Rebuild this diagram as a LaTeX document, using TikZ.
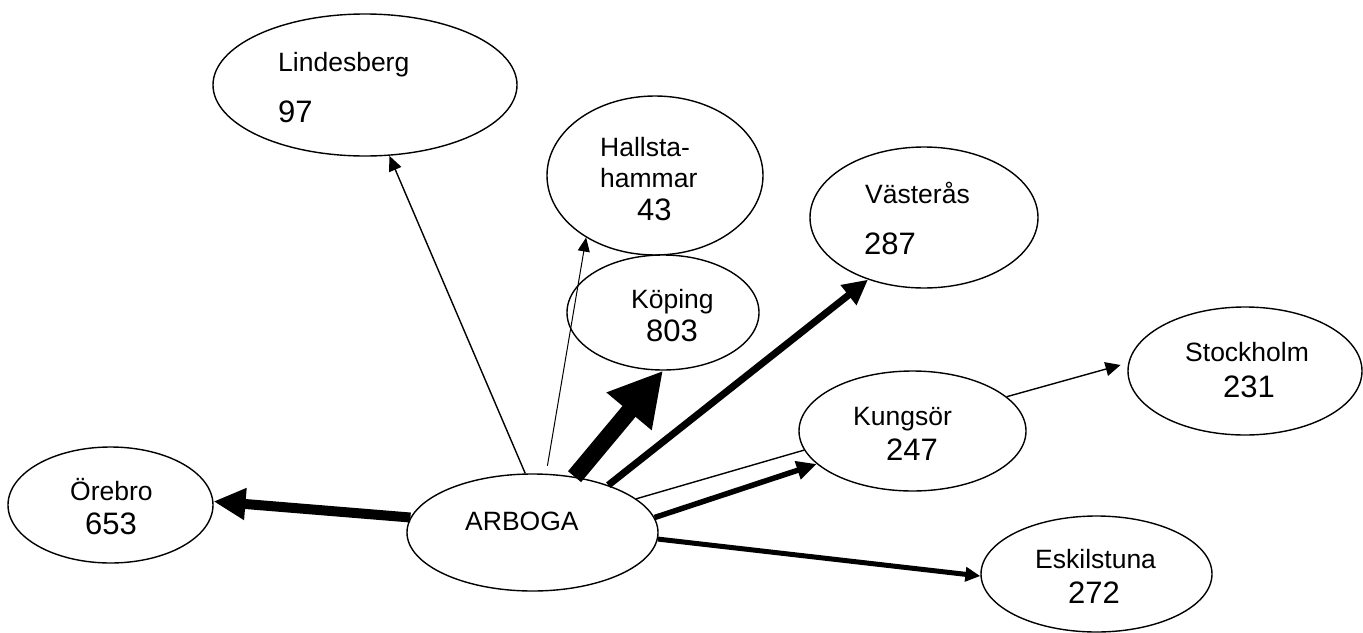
\documentclass[tikz,border=0pt]{standalone}
\usepackage{fontspec}
\setmainfont{Liberation Sans}
\usetikzlibrary{arrows.meta,shapes.geometric}
\tikzset{
  city/.style={draw, line width=1.4pt, fill=white, ellipse, inner sep=0pt},
  nm/.style={anchor=base west, inner sep=0pt, font=\fontsize{26.5}{30}\selectfont},
  num/.style={anchor=base west, inner sep=0pt, font=\fontsize{31}{34}\selectfont},
}
\begin{document}
\begin{tikzpicture}[x=1pt, y=-1pt]
\useasboundingbox (0,0) rectangle (1363,632);
% ellipses
\node[city, minimum width=304pt, minimum height=142pt] (lin) at (365,85) {};
\node[city, minimum width=216pt, minimum height=159pt] (hal) at (655,175.5) {};
\node[city, minimum width=228pt, minimum height=141pt] (vas) at (924,217.5) {};
\node[city, minimum width=192pt, minimum height=115pt] (kop) at (663,312.5) {};
\node[city, minimum width=234pt, minimum height=128pt] (sto) at (1245,371) {};
\node[city, minimum width=227pt, minimum height=120pt] (kun) at (912.5,431) {};
\node[city, minimum width=205pt, minimum height=116pt] (ore) at (110.5,505) {};
\node[city, minimum width=251pt, minimum height=117pt] (arb) at (532.5,532.5) {};
\node[city, minimum width=231pt, minimum height=116pt] (esk) at (1096.5,574) {};
% texts
\node[nm] (tlin) at (278,71) {Lindesberg};
\node[num] (nlin) at (278,122) {97};
\node[nm] (thal1) at (600,156) {Hallsta-};
\node[nm] (thal2) at (600,187) {hammar};
\node[num] (nhal) at (637,220) {43};
\node[nm] (tvas) at (865,203) {Västerås};
\node[num] (nvas) at (864,254) {287};
\node[nm] (tkop) at (631,308) {Köping};
\node[num] (nkop) at (646,341) {803};
\node[nm] (tsto) at (1185,361) {Stockholm};
\node[num] (nsto) at (1223,397) {231};
\node[nm] (tkun) at (853,425) {Kungsör};
\node[num] (nkun) at (886,460) {247};
\node[nm] (tore) at (70,500) {Örebro};
\node[num] (nore) at (85,534) {653};
\node[nm] (tarb) at (465,530) {ARBOGA};
\node[nm] (tesk) at (1035,568) {Eskilstuna};
\node[num] (nesk) at (1068,603) {272};
% connectors
\draw[line width=10pt, -{Triangle[length=32pt,width=30pt]}] (arb.173.4) -- (ore.2.7);
\draw[line width=1.4pt, -{Triangle[length=15pt,width=13pt]}] (arb.97.2) -- (lin.-71.1);
\draw[line width=1pt, shorten <=8pt, -{Triangle[length=14pt,width=12pt]}] (arb.77.7) -- (hal.-138.6);
\draw[line width=17pt, -{Triangle[length=53pt,width=55pt]}] (arb.53.5) -- (kop.south);
\draw[line width=7pt, -{Triangle[length=25pt,width=24pt]}] (arb.32.8) -- (vas.-132.9);
\draw[line width=1.4pt] (arb.18.3) -- (kun.190.9);
\draw[line width=5.5pt, -{Triangle[length=20pt,width=18pt]}] (arb.7.9) -- (kun.199.4);
\draw[line width=5pt, -{Triangle[length=15pt,width=14pt]}] (arb.-3.4) -- (esk.181.5);
\draw[line width=1.4pt, shorten >=8pt, -{Triangle[length=15pt,width=14pt]}] (kun.20.6) -- (sto.176.3);
\end{tikzpicture}
\end{document}
